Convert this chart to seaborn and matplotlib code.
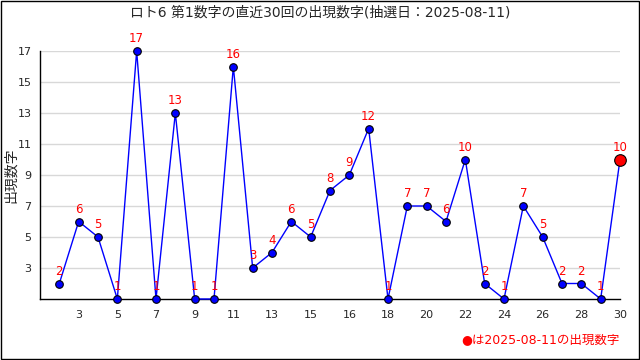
import matplotlib
matplotlib.use("Agg")
import matplotlib.pyplot as plt
import seaborn as sns
import pandas as pd
from matplotlib.patches import Rectangle

# 直近30回の第1数字
draws = list(range(1, 31))
numbers = [2, 6, 5, 1, 17, 1, 13, 1, 1, 16, 3, 4, 6, 5, 8, 9, 12, 1, 7, 7,
           6, 10, 2, 1, 7, 5, 2, 2, 1, 10]
tick_pos = [2, 4, 6, 8, 10, 12, 14, 16, 18, 20, 22, 24, 26, 28, 30]
tick_labels = ["3", "5", "7", "9", "11", "13", "15", "16", "18", "20",
               "22", "24", "26", "28", "30"]
y_ticks = [3, 5, 7, 9, 11, 13, 15, 17]
title = "ロト6 第1数字の直近30回の出現数字(抽選日：2025-08-11)"
note = "●は2025-08-11の出現数字"

sns.set_style("white")
plt.rcParams["font.family"] = ["DejaVu Sans", "Noto Sans CJK JP"]

df = pd.DataFrame({"draw": draws, "num": numbers})

fig = plt.figure(figsize=(6.4, 3.6), dpi=100)
ax = fig.add_axes([40 / 640, 1 - 299 / 360, 580 / 640, 248 / 360])

sns.lineplot(data=df, x="draw", y="num", color="blue", linewidth=1, ax=ax,
             clip_on=False, zorder=3)
sns.scatterplot(data=df.iloc[:-1], x="draw", y="num", color="blue",
                edgecolor="black", linewidth=0.8, s=30, ax=ax, clip_on=False,
                zorder=4)
sns.scatterplot(data=df.iloc[-1:], x="draw", y="num", color="red",
                edgecolor="black", linewidth=0.8, s=70, ax=ax, clip_on=False,
                zorder=5)

for d, n in zip(draws, numbers):
    ax.annotate(str(n), (d, n), xytext=(0, 4), textcoords="offset points",
                ha="center", va="bottom", color="red", fontsize=8.5)

ax.set_xlim(0, 30)
ax.set_ylim(1, 17)
ax.set_xticks(tick_pos)
ax.set_xticklabels(tick_labels, fontsize=8)
ax.set_xticks(draws, minor=True)
ax.set_yticks(y_ticks)
ax.set_yticklabels([str(v) for v in y_ticks], fontsize=8)
ax.set_yticks(range(1, 18), minor=True)
ax.tick_params(axis="both", which="both", direction="in", length=4,
               width=1, color="black", pad=6)
ax.tick_params(axis="x", which="both", pad=8)
ax.grid(axis="y", color="#d8d8d8", linewidth=1)
ax.set_axisbelow(True)
for s in ["top", "right"]:
    ax.spines[s].set_visible(False)
for s in ["left", "bottom"]:
    ax.spines[s].set_color("black")
    ax.spines[s].set_linewidth(1)
ax.set_xlabel("")
ax.set_ylabel("")

fig.text(0.5, 1 - 12 / 360, title, ha="center", va="center", fontsize=10)
fig.text(11 / 640, 1 - 175 / 360, "出現数字", ha="center", va="center",
         rotation=90, fontsize=10)
fig.text(620 / 640, 1 - 340 / 360, note, ha="right", va="center",
         fontsize=9, color="red")
fig.patches.append(Rectangle((0.001, 0.002), 0.997, 0.995,
                             transform=fig.transFigure, fill=False,
                             edgecolor="black", linewidth=1))

fig.savefig("out.png", dpi=100)
